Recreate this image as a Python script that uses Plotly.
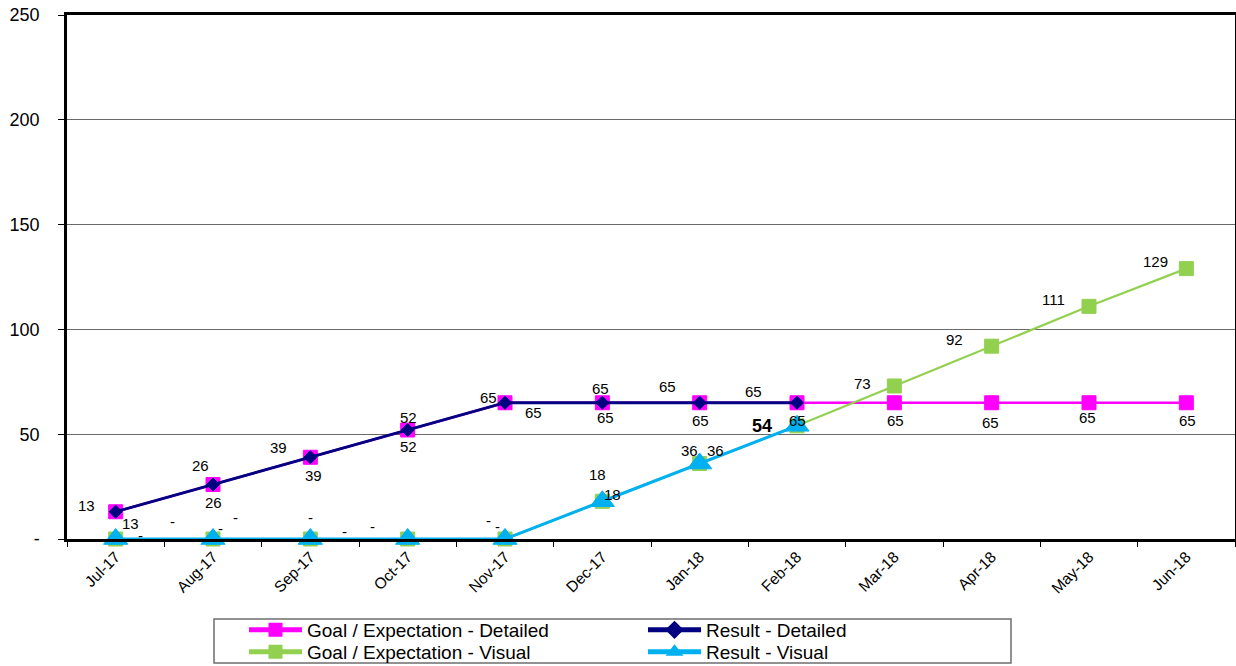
import plotly.graph_objects as go

# ---------------- data ----------------
months = ["Jul-17", "Aug-17", "Sep-17", "Oct-17", "Nov-17", "Dec-17",
          "Jan-18", "Feb-18", "Mar-18", "Apr-18", "May-18", "Jun-18"]
goal_detailed = [13, 26, 39, 52, 65, 65, 65, 65, 65, 65, 65, 65]
result_detailed = [13, 26, 39, 52, 65, 65, 65, 65, None, None, None, None]
goal_visual = [0, 0, 0, 0, 0, 18, 36, 54, 73, 92, 111, 129]
result_visual = [0, 0, 0, 0, 0, 18, 36, 54, None, None, None, None]

y_tick_values = [0, 50, 100, 150, 200, 250]
y_tick_labels = ["-", "50", "100", "150", "200", "250"]

series_names = ["Goal / Expectation - Detailed", "Goal / Expectation - Visual",
                "Result - Detailed", "Result - Visual"]

# ---------------- styles / label placement (pixels, dx right, dy down) ----------------
FONT = "Liberation Sans, Arial, sans-serif"
colors = {"gd": "#FF00FF", "gv": "#92D050", "rd": "#000080", "rv": "#00B0F0"}

offsets_gd = [(15, 12), (0, 17.5), (3, 18), (1, 16), (28, 10), (3, 15), (1, 18),
              (0, 18), (1, 18), (-1, 20), (-2, 15), (1, 18)]
offsets_rd = [(-29, -6), (-13, -19.5), (-32, -10), (1, -13), (-17, -5), (-2, -14),
              (-32, -16), (-44, -11), None, None, None, None]
offsets_gv = [(57, -18), (22, -22), (0, -22), (-35, -13), (-17, -19), (-5, -27),
              (-10, -13.5), (-35, 0), (-32, -2), (-37, -7), (-36, -7), (-31, -7.6)]
offsets_rv = [(25, -4), (7, -11), (34, -8), None, (-8, -13), (10, -7), (16, -13.5),
              None, None, None, None, None]
bold_labels = {("gv", 7)}

fig = go.Figure()

def add_series(key, name, values, symbol, msize, lwidth, legend):
    fig.add_trace(go.Scatter(
        x=months, y=values, name=name, mode="lines+markers",
        line=dict(color=colors[key], width=lwidth),
        marker=dict(symbol=symbol, size=msize, color=colors[key],
                    line=dict(width=1, color=colors[key])),
        legend=legend, hoverinfo="x+y+name", cliponaxis=False,
    ))

add_series("gd", series_names[0], goal_detailed, "square", 14, 2.5, "legend")
add_series("gv", series_names[1], goal_visual, "square", 14, 2.2, "legend2")
add_series("rd", series_names[2], result_detailed, "diamond", 10, 2.8, "legend")
add_series("rv", series_names[3], result_visual, "triangle-up", 21, 3, "legend2")

annotations = []
for key, values, offs in [("gd", goal_detailed, offsets_gd), ("rd", result_detailed, offsets_rd),
                          ("gv", goal_visual, offsets_gv), ("rv", result_visual, offsets_rv)]:
    for i, (m, v) in enumerate(zip(months, values)):
        if v is None or offs[i] is None:
            continue
        txt = "-" if v == 0 else str(v)
        bold = (key, i) in bold_labels
        if bold:
            txt = "<b>" + txt + "</b>"
        annotations.append(dict(
            x=m, y=v, xref="x", yref="y", text=txt, showarrow=False,
            xshift=offs[i][0], yshift=-offs[i][1],
            font=dict(family=FONT, size=18 if bold else 15, color="black"),
        ))

legend_common = dict(
    orientation="h", xanchor="left", yanchor="middle",
    x=(244 - 67) / 1168, font=dict(family=FONT, size=19, color="black"),
    bgcolor="rgba(0,0,0,0)", borderwidth=0, itemwidth=53,
    entrywidth=331, entrywidthmode="pixels", itemsizing="constant",
    itemclick=False, itemdoubleclick=False,
)

fig.update_layout(
    width=1236, height=666,
    margin=dict(l=67, r=1, t=15, b=127, autoexpand=False),
    paper_bgcolor="white", plot_bgcolor="white",
    font=dict(family=FONT, color="black"),
    showlegend=True,
    legend=dict(legend_common, y=(539 - 630) / 524),
    legend2=dict(legend_common, y=(539 - 652) / 524),
    annotations=annotations,
    shapes=[dict(
        type="rect", xref="paper", yref="paper",
        xsizemode="pixel", ysizemode="pixel", xanchor=0, yanchor=0,
        x0=147, x1=944, y0=-80, y1=-124,
        line=dict(color="#6e6e6e", width=1.5), fillcolor="rgba(0,0,0,0)",
    )],
    xaxis=dict(
        type="category", range=[-0.5, 11.5], tickangle=-45, automargin=False,
        tickson="boundaries", ticks="outside", ticklen=5, tickcolor="black", tickwidth=1,
        showline=True, linecolor="black", linewidth=2.5, mirror=True,
        showgrid=False, zeroline=False,
        tickfont=dict(family=FONT, size=15.5, color="black"),
    ),
    yaxis=dict(
        range=[0, 250], tickvals=y_tick_values, ticktext=y_tick_labels, automargin=False,
        ticks="outside", ticklen=6, tickcolor="black", tickwidth=1,
        showline=True, linecolor="black", linewidth=2.5, mirror=True,
        showgrid=True, gridcolor="#6a6a6a", gridwidth=1, zeroline=False,
        ticklabelstandoff=15,
        tickfont=dict(family=FONT, size=18, color="black"),
    ),
)

fig.write_html("out.html")
